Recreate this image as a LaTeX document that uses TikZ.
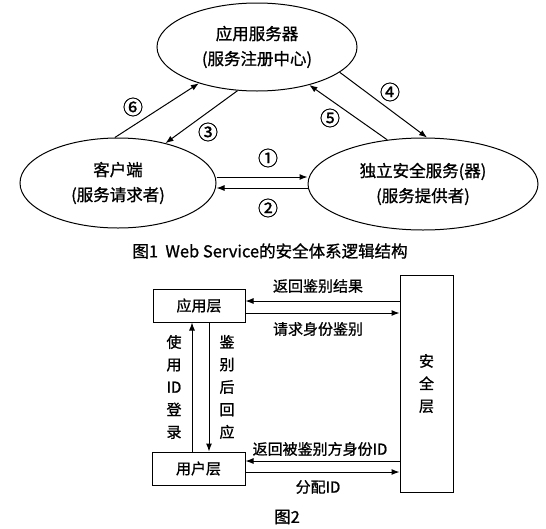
\documentclass[tikz,border=0pt]{standalone}
\usepackage{fontspec}
\setmainfont{Noto Sans CJK SC}[FakeBold=1]
\usetikzlibrary{arrows.meta,shapes.geometric,positioning}

\begin{document}
\begin{tikzpicture}[x=1pt, y=-1pt,
  font=\fontsize{16.5}{25}\selectfont,
  oval/.style={draw, ellipse, line width=1pt, inner sep=0pt, align=center},
  box/.style={draw, line width=1pt, inner sep=0pt, align=center,
              font=\fontsize{15}{22.5}\selectfont},
  arr/.style={-{Latex[length=8pt,width=6pt]}, line width=1pt},
  lbl/.style={inner sep=0pt, align=center, font=\fontsize{15}{22.5}\selectfont},
  num/.style={inner sep=0pt, font=\fontsize{20}{20}\selectfont}
]
  \useasboundingbox (0,0) rectangle (546,528);

  % Fig. 1
  \node[oval, minimum width=200, minimum height=88] (yy) at (257,47)
    {应用服务器\\(服务注册中心)};
  \node[oval, minimum width=196, minimum height=90] (kh) at (118,183)
    {客户端\\(服务请求者)};
  \node[oval, minimum width=230, minimum height=92] (aq) at (423,184)
    {独立安全服务(器)\\(服务提供者)};

  \draw[arr] (kh.94) -- (yy.212);
  \draw[arr] (yy.246) -- (kh.40);
  \draw[arr] (yy.343) -- (aq.85);
  \draw[arr] (aq.129) -- (yy.324);
  \coordinate (p1) at ([yshift=6pt]kh.east);
  \coordinate (p2) at ([yshift=-5pt]kh.east);
  \draw[arr] (p1) -- (p1 -| aq.west);
  \draw[arr] (p2 -| aq.west) -- (p2);

  \node[num] (n1) at (268,158) {①};
  \node[num] (n2) at (268,208) {②};
  \node[num] (n3) at (208,132) {③};
  \node[num] (n4) at (390,92) {④};
  \node[num] (n5) at (330,118) {⑤};
  \node[num] (n6) at (133,107) {⑥};

  \node (cap1) at (270,251) {图1\ \ Web\ Service的安全体系逻辑结构};

  % Fig. 2
  \node[box, minimum width=92, minimum height=33] (app) at (199,305.5) {应用层};
  \node[box, minimum width=93, minimum height=33] (usr) at (198.5,468.5) {用户层};
  \node[box, minimum width=53, minimum height=217] (sec) at (426.5,383.5)
    {安\\全\\层};

  \coordinate (a1) at ([yshift=4.5pt]app.east);
  \coordinate (a2) at ([yshift=-7.5pt]app.east);
  \coordinate (u1) at ([yshift=7.5pt]usr.east);
  \coordinate (u2) at ([yshift=-3.5pt]usr.east);
  \draw[arr] (a1 -| sec.west) -- (a1);
  \draw[arr] (a2) -- (a2 -| sec.west);
  \draw[arr] (u1 -| sec.west) -- (u1);
  \draw[arr] (u2) -- (u2 -| sec.west);

  \coordinate (v1) at ([xshift=-6.5pt]usr.north);
  \coordinate (v2) at ([xshift=10pt]app.south);
  \draw[arr] (v1) -- (v1 |- app.south);
  \draw[arr] (v2) -- (v2 |- usr.north);

  \node[lbl] (t1) at (318,286) {返回鉴别结果};
  \node[lbl] (t2) at (318,329) {请求身份鉴别};
  \node[lbl] (t3) at (320,449) {返回被鉴别方身份ID};
  \node[lbl] (t4) at (318,487) {分配ID};
  \node[lbl] (t5) at (174,387) {使\\用\\ID\\登\\录};
  \node[lbl] (t6) at (227,387) {鉴\\别\\后\\回\\应};

  \node (cap2) at (287,517) {图2};
\end{tikzpicture}
\end{document}
